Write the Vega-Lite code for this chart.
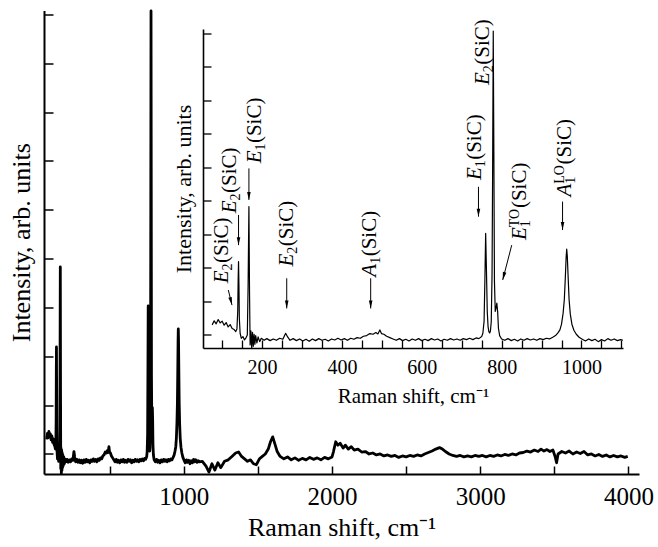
{
  "$schema": "https://vega.github.io/schema/vega-lite/v6.json",
  "width": 595,
  "height": 463.5,
  "autosize": "none",
  "padding": {"left": 44, "top": 10.5, "right": 19, "bottom": 73},
  "background": "white",
  "config": {
    "view": {"stroke": null},
    "font": "Liberation Serif",
    "axis": {"grid": false, "domainColor": "black", "tickColor": "black", "labelColor": "black", "titleColor": "black", "labelFont": "Liberation Serif", "titleFont": "Liberation Serif", "titleFontWeight": "normal"}
  },
  "datasets": {
    "spec": [
      {"x":75,"v":0.30},{"x":80,"v":0.42},{"x":85,"v":0.33},{"x":90,"v":0.46},{"x":95,"v":0.36},{"x":100,"v":0.41},{"x":105,"v":0.29},{"x":110,"v":0.37},{"x":115,"v":0.24},{"x":120,"v":0.31},{"x":125,"v":0.19},{"x":130,"v":0.16},{"x":134,"v":0.10},{"x":137,"v":0.18},{"x":139,"v":0.70},{"x":140,"v":1.60},{"x":141,"v":2.19},{"x":142,"v":1.50},{"x":143,"v":0.50},{"x":145,"v":0.05},{"x":148,"v":-0.10},{"x":152,"v":-0.05},{"x":156,"v":-0.15},{"x":160,"v":-0.08},{"x":163,"v":0.00},{"x":165,"v":1.50},{"x":167,"v":3.83},{"x":168.5,"v":1.30},{"x":170,"v":-0.30},{"x":172,"v":0.12},{"x":174,"v":-0.40},{"x":176,"v":0.08},{"x":178,"v":-0.34},{"x":180,"v":0.02},{"x":182,"v":-0.28},{"x":184,"v":-0.02},{"x":187,"v":-0.24},{"x":190,"v":-0.06},{"x":194,"v":-0.20},{"x":198,"v":-0.10},
      {"x":205,"v":-0.16},{"x":212,"v":-0.11},{"x":220,"v":-0.17},{"x":228,"v":-0.12},{"x":236,"v":-0.16},{"x":244,"v":-0.10},{"x":252,"v":-0.13},{"x":259,"v":0.05},{"x":264,"v":-0.06},{"x":270,"v":-0.16},{"x":278,"v":-0.11},{"x":286,"v":-0.17},{"x":294,"v":-0.12},{"x":302,"v":-0.18},{"x":310,"v":-0.13},{"x":318,"v":-0.19},{"x":326,"v":-0.12},{"x":334,"v":-0.17},{"x":342,"v":-0.11},{"x":350,"v":-0.16},{"x":358,"v":-0.13},{"x":366,"v":-0.18},{"x":374,"v":-0.12},{"x":382,"v":-0.15},{"x":390,"v":-0.10},{"x":398,"v":-0.15},{"x":406,"v":-0.11},{"x":414,"v":-0.16},{"x":422,"v":-0.10},{"x":430,"v":-0.13},{"x":438,"v":-0.08},{"x":446,"v":-0.10},{"x":454,"v":-0.04},{"x":462,"v":-0.02},{"x":470,"v":0.04},{"x":478,"v":0.02},{"x":485,"v":0.07},{"x":490,"v":0.03},{"x":495,"v":0.15},{"x":499,"v":0.04},{"x":505,"v":0.02},{"x":512,"v":-0.04},{"x":520,"v":-0.08},{"x":528,"v":-0.12},{"x":536,"v":-0.16},{"x":544,"v":-0.11},{"x":552,"v":-0.17},{"x":560,"v":-0.13},{"x":568,"v":-0.18},{"x":576,"v":-0.12},{"x":584,"v":-0.16},{"x":592,"v":-0.11},{"x":600,"v":-0.17},{"x":608,"v":-0.13},{"x":616,"v":-0.17},{"x":624,"v":-0.11},{"x":632,"v":-0.15},{"x":640,"v":-0.12},{"x":648,"v":-0.18},{"x":656,"v":-0.13},{"x":664,"v":-0.16},{"x":672,"v":-0.11},{"x":680,"v":-0.15},{"x":688,"v":-0.12},{"x":696,"v":-0.16},{"x":704,"v":-0.11},{"x":712,"v":-0.14},{"x":720,"v":-0.10},{"x":728,"v":-0.14},{"x":736,"v":-0.09},{"x":743,"v":-0.11},{"x":750,"v":-0.05},
      {"x":753,"v":0.05},{"x":756,"v":0.40},{"x":758,"v":1.60},{"x":760,"v":3.03},{"x":762,"v":1.90},{"x":764,"v":0.70},{"x":766,"v":0.25},{"x":768,"v":0.10},{"x":770,"v":0.06},{"x":772,"v":0.12},{"x":774,"v":0.40},{"x":776,"v":1.80},{"x":777.5,"v":5.00},{"x":779,"v":9.07},{"x":780.5,"v":5.50},{"x":782,"v":1.60},{"x":784,"v":0.70},{"x":786,"v":0.80},{"x":788,"v":0.95},{"x":790,"v":0.70},{"x":792,"v":0.20},{"x":795,"v":-0.02},{"x":800,"v":-0.12},
      {"x":808,"v":-0.16},{"x":816,"v":-0.11},{"x":824,"v":-0.17},{"x":832,"v":-0.13},{"x":840,"v":-0.18},{"x":848,"v":-0.12},{"x":856,"v":-0.16},{"x":864,"v":-0.11},{"x":872,"v":-0.15},{"x":880,"v":-0.12},{"x":888,"v":-0.16},{"x":896,"v":-0.11},{"x":904,"v":-0.14},{"x":912,"v":-0.10},{"x":920,"v":-0.12},{"x":928,"v":-0.07},{"x":935,"v":-0.02},{"x":941,"v":0.06},{"x":946,"v":0.15},{"x":950,"v":0.32},{"x":954,"v":0.65},{"x":957,"v":1.05},{"x":959.5,"v":1.70},{"x":961.5,"v":2.30},{"x":963,"v":2.56},{"x":964.5,"v":2.35},{"x":966.5,"v":1.75},{"x":969,"v":1.05},{"x":972,"v":0.62},{"x":976,"v":0.32},{"x":981,"v":0.14},{"x":987,"v":0.02},{"x":994,"v":-0.07},{"x":1002,"v":-0.13},{"x":1010,"v":-0.18},{"x":1018,"v":-0.12},{"x":1026,"v":-0.17},{"x":1034,"v":-0.13},{"x":1042,"v":-0.20},{"x":1050,"v":-0.14},{"x":1058,"v":-0.18},{"x":1066,"v":-0.11},{"x":1074,"v":-0.16},{"x":1082,"v":-0.12},{"x":1090,"v":-0.17},{"x":1098,"v":-0.14},{"x":1104,"v":-0.16},
      {"x":1125,"v":-0.15},{"x":1150,"v":-0.25},{"x":1170,"v":-0.37},{"x":1190,"v":-0.20},{"x":1210,"v":-0.33},{"x":1230,"v":-0.18},{"x":1250,"v":-0.28},{"x":1275,"v":-0.15},{"x":1300,"v":-0.12},{"x":1325,"v":-0.05},{"x":1350,"v":0.02},{"x":1370,"v":0.04},{"x":1390,"v":-0.05},{"x":1410,"v":-0.10},{"x":1430,"v":-0.15},{"x":1450,"v":-0.12},{"x":1470,"v":-0.20},{"x":1490,"v":-0.22},{"x":1510,"v":-0.10},{"x":1530,"v":-0.05},{"x":1550,"v":0.00},{"x":1570,"v":0.10},{"x":1585,"v":0.25},{"x":1600,"v":0.35},{"x":1615,"v":0.20},{"x":1630,"v":0.05},{"x":1650,"v":-0.05},{"x":1675,"v":-0.10},{"x":1700,"v":-0.06},{"x":1725,"v":-0.12},{"x":1750,"v":-0.08},{"x":1775,"v":-0.13},{"x":1800,"v":-0.09},{"x":1825,"v":-0.12},{"x":1850,"v":-0.07},{"x":1875,"v":-0.11},{"x":1900,"v":-0.08},{"x":1925,"v":-0.12},{"x":1950,"v":-0.07},{"x":1975,"v":-0.10},{"x":2000,"v":-0.06},{"x":2010,"v":0.05},{"x":2025,"v":0.25},{"x":2040,"v":0.18},{"x":2055,"v":0.22},{"x":2075,"v":0.12},{"x":2090,"v":0.18},{"x":2110,"v":0.10},{"x":2130,"v":0.15},{"x":2150,"v":0.08},{"x":2175,"v":0.10},{"x":2200,"v":0.04},{"x":2225,"v":0.05},{"x":2250,"v":0.00},{"x":2275,"v":0.02},{"x":2300,"v":-0.02},{"x":2325,"v":0.00},{"x":2350,"v":-0.04},{"x":2375,"v":-0.02},{"x":2400,"v":-0.05},{"x":2425,"v":-0.03},{"x":2450,"v":-0.07},{"x":2475,"v":-0.04},{"x":2500,"v":-0.06},{"x":2525,"v":-0.03},{"x":2550,"v":-0.05},{"x":2575,"v":-0.02},{"x":2600,"v":-0.04},{"x":2625,"v":0.00},{"x":2650,"v":0.03},{"x":2675,"v":0.06},{"x":2700,"v":0.10},{"x":2725,"v":0.13},{"x":2745,"v":0.10},{"x":2765,"v":0.05},{"x":2790,"v":0.00},{"x":2815,"v":-0.03},{"x":2840,"v":-0.05},{"x":2865,"v":-0.03},{"x":2890,"v":-0.06},{"x":2915,"v":-0.04},{"x":2940,"v":-0.06},{"x":2965,"v":-0.03},{"x":2990,"v":-0.05},{"x":3015,"v":-0.03},{"x":3040,"v":-0.06},{"x":3065,"v":-0.03},{"x":3090,"v":-0.05},{"x":3115,"v":-0.02},{"x":3140,"v":-0.04},{"x":3165,"v":-0.01},{"x":3190,"v":-0.03},{"x":3215,"v":0.00},{"x":3240,"v":-0.02},{"x":3265,"v":0.02},{"x":3290,"v":0.03},{"x":3315,"v":0.06},{"x":3340,"v":0.04},{"x":3365,"v":0.08},{"x":3390,"v":0.05},{"x":3410,"v":0.10},{"x":3430,"v":0.06},{"x":3450,"v":0.09},{"x":3470,"v":0.05},{"x":3490,"v":0.08},{"x":3505,"v":-0.05},{"x":3515,"v":-0.18},{"x":3525,"v":0.00},{"x":3550,"v":0.05},{"x":3575,"v":0.02},{"x":3600,"v":0.06},{"x":3625,"v":0.00},{"x":3650,"v":0.04},{"x":3675,"v":0.01},{"x":3700,"v":0.05},{"x":3725,"v":-0.02},{"x":3750,"v":0.00},{"x":3775,"v":-0.04},{"x":3800,"v":-0.01},{"x":3825,"v":-0.05},{"x":3850,"v":-0.02},{"x":3875,"v":-0.06},{"x":3900,"v":-0.03},{"x":3925,"v":-0.06},{"x":3950,"v":-0.04},{"x":3975,"v":-0.07},{"x":3995,"v":-0.05}
    ],
    "ann": [
      {"x":98.8,"v":1.54,"letter":"E","sub":"2","sup":null},
      {"x":119.6,"v":3.63,"letter":"E","sub":"2","sup":null},
      {"x":182.3,"v":5.12,"letter":"E","sub":"1","sup":null},
      {"x":261.7,"v":2.04,"letter":"E","sub":"2","sup":null},
      {"x":470.3,"v":1.74,"letter":"A","sub":"1","sup":null},
      {"x":733.4,"v":4.62,"letter":"E","sub":"1","sup":null},
      {"x":753.4,"v":7.46,"letter":"E","sub":"2","sup":null},
      {"x":846,"v":2.83,"letter":"E","sub":"1","sup":"TO"},
      {"x":958.8,"v":4.13,"letter":"A","sub":"1","sup":"LO"}
    ],
    "arrows": [
      {"x":124.6,"v":0.89,"xs":115.4,"vs":1.34,"kind":"dr"},
      {"x":141,"v":2.68,"xs":141,"vs":3.58,"kind":"v"},
      {"x":167,"v":4.03,"xs":167,"vs":4.97,"kind":"v"},
      {"x":261.7,"v":0.79,"xs":261.7,"vs":1.69,"kind":"v"},
      {"x":472,"v":0.79,"xs":472,"vs":1.69,"kind":"v"},
      {"x":742,"v":3.53,"xs":742,"vs":4.42,"kind":"v"},
      {"x":802.7,"v":1.64,"xs":825.3,"vs":2.68,"kind":"dl"},
      {"x":952.6,"v":3.13,"xs":952.6,"vs":3.98,"kind":"v"}
    ]
  },
  "layer": [
    {
      "data": {"name": "spec"},
      "mark": {"type": "line", "color": "black", "strokeWidth": 2.8, "strokeJoin": "round"},
      "encoding": {
        "x": {"field": "x", "type": "quantitative", "scale": {"domain": [57, 4071], "nice": false, "zero": false},
          "axis": {"orient": "bottom", "values": [500,1000,1500,2000,2500,3000,3500,4000], "format": "d", "labelExpr": "datum.value % 1000 === 0 ? datum.label : ''", "tickSize": -8, "tickWidth": 1.5, "domainWidth": 2, "labelFont": "Liberation Serif", "labelFontSize": 25, "labelPadding": 18, "title": "Raman shift, cm⁻¹", "titleFont": "Liberation Serif", "titleFontWeight": "normal", "titleFontSize": 26, "titlePadding": 5}},
        "y": {"field": "v", "type": "quantitative", "scale": {"domain": [-0.41, 9.08], "nice": false, "zero": false},
          "axis": {"orient": "left", "values": [0,1,2,3,4,5,6,7,8,9], "labels": false, "tickSize": -9, "tickWidth": 1.5, "domainWidth": 2, "title": "Intensity, arb. units", "titleFont": "Liberation Serif", "titleFontWeight": "normal", "titleFontSize": 26, "titlePadding": 9}}
      }
    },
    {
      "encoding": {
        "x": {"field": "x", "type": "quantitative", "scale": {"domain": [52, 1104], "range": [159, 579], "nice": false, "zero": false},
          "axis": {"orient": "bottom", "offset": -126, "values": [100,150,200,250,300,350,400,450,500,550,600,650,700,750,800,850,900,950,1000,1050,1100], "format": "d", "labelExpr": "datum.value % 200 === 0 ? datum.label : ''", "tickSize": -8, "tickWidth": 1.3, "domainWidth": 1.6, "labelFont": "Liberation Serif", "labelFontSize": 20, "labelPadding": 17, "title": "Raman shift, cm⁻¹", "titleFont": "Liberation Serif", "titleFontWeight": "normal", "titleFontSize": 21, "titlePadding": 8}},
        "y": {"field": "v", "type": "quantitative", "scale": {"domain": [-0.39, 9.13], "range": [337.5, 18.5], "nice": false, "zero": false},
          "axis": {"orient": "left", "offset": -159, "values": [0,1,2,3,4,5,6,7,8,9], "labels": false, "tickSize": -8, "tickWidth": 1.3, "domainWidth": 1.6, "title": "Intensity, arb. units", "titleFont": "Liberation Serif", "titleFontWeight": "normal", "titleFontSize": 22, "titlePadding": 7}}
      },
      "layer": [
        {
          "data": {"name": "spec"},
          "transform": [{"filter": "datum.x <= 1104"}],
          "mark": {"type": "line", "color": "black", "strokeWidth": 1.2, "strokeJoin": "round"}
        },
        {
          "data": {"name": "arrows"},
          "mark": {"type": "rule", "color": "black", "strokeWidth": 1},
          "encoding": {"x2": {"field": "xs"}, "y2": {"field": "vs"}}
        },
        {
          "data": {"name": "arrows"},
          "transform": [{"filter": "datum.kind === 'v'"}],
          "mark": {"type": "point", "shape": "M0,0L-0.45,-2L0.45,-2Z", "size": 64, "filled": true, "color": "black", "opacity": 1, "strokeWidth": 0},
          "encoding": {}
        },
        {
          "data": {"name": "arrows"},
          "transform": [{"filter": "datum.kind === 'dr'"}],
          "mark": {"type": "point", "shape": "M0,0L-0.45,-2L0.45,-2Z", "size": 64, "filled": true, "color": "black", "opacity": 1, "strokeWidth": 0, "angle": 346},
          "encoding": {}
        },
        {
          "data": {"name": "arrows"},
          "transform": [{"filter": "datum.kind === 'dl'"}],
          "mark": {"type": "point", "shape": "M0,0L-0.45,-2L0.45,-2Z", "size": 64, "filled": true, "color": "black", "opacity": 1, "strokeWidth": 0, "angle": 14},
          "encoding": {}
        },
        {
          "data": {"name": "ann"},
          "mark": {"type": "text", "angle": 270, "align": "left", "baseline": "middle", "font": "Liberation Serif", "fontStyle": "italic", "fontSize": 21, "color": "black"},
          "encoding": {"text": {"field": "letter"}}
        },
        {
          "data": {"name": "ann"},
          "mark": {"type": "text", "angle": 270, "align": "left", "baseline": "middle", "font": "Liberation Serif", "fontSize": 14, "color": "black", "dx": 12.8, "dy": 6},
          "encoding": {"text": {"field": "sub"}}
        },
        {
          "data": {"name": "ann"},
          "transform": [{"filter": "datum.sup != null"}],
          "mark": {"type": "text", "angle": 270, "align": "left", "baseline": "middle", "font": "Liberation Serif", "fontSize": 14, "color": "black", "dx": 12.8, "dy": -5},
          "encoding": {"text": {"field": "sup"}}
        },
        {
          "data": {"name": "ann"},
          "transform": [{"filter": "datum.sup == null"}],
          "mark": {"type": "text", "angle": 270, "align": "left", "baseline": "middle", "font": "Liberation Serif", "fontSize": 21, "color": "black", "dx": 20.3, "text": "(SiC)"},
          "encoding": {}
        },
        {
          "data": {"name": "ann"},
          "transform": [{"filter": "datum.sup != null"}],
          "mark": {"type": "text", "angle": 270, "align": "left", "baseline": "middle", "font": "Liberation Serif", "fontSize": 21, "color": "black", "dx": 32, "text": "(SiC)"},
          "encoding": {}
        }
      ]
    }
  ],
  "resolve": {"scale": {"x": "independent", "y": "independent"}}
}
